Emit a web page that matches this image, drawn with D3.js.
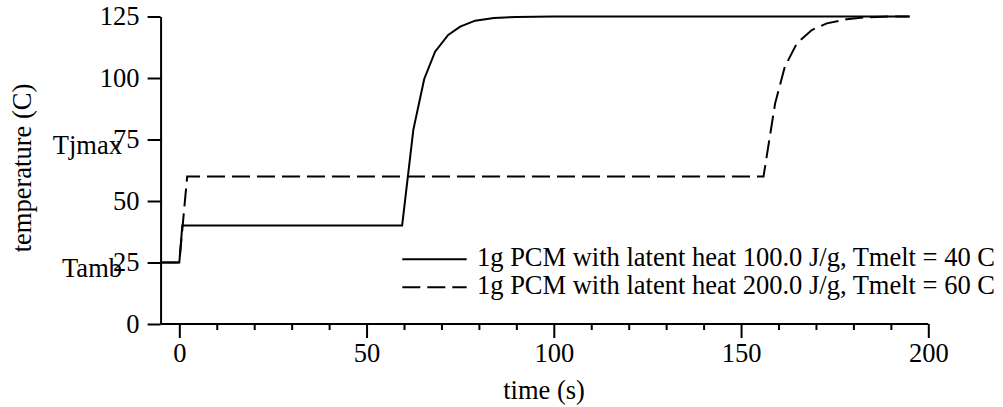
<!DOCTYPE html>
<html>
<head>
<meta charset="utf-8">
<script src="https://cdn.jsdelivr.net/npm/d3@7"></script>
<style>
    body { margin: 0; background: #fff; }
    svg text { font-family: "Liberation Serif", "Times New Roman", serif; font-size: 26.5px; fill: #000; }
    .axis path, .axis line { stroke: #000; stroke-width: 2px; }
    .curve { fill: none; stroke: #000; stroke-width: 2px; }
</style>
</head>
<body>
<svg id="chart" width="1003" height="407" font-family="Liberation Serif"></svg>
<script>
// Values
var timeSolid = [-5, 0, 0.8, 59.5, 62.5, 65.4, 68.3, 71.8, 75, 79, 84, 90, 100, 120, 150, 195];
var tempSolid = [25, 25, 40, 40, 79, 99.6, 110.7, 117.5, 120.9, 123.3, 124.4, 124.8, 125, 125, 125, 125];

var timeDashed = [-5, 0, 2.1, 156, 159.1, 161.7, 164.9, 168.9, 172.9, 178.2, 183.5, 190, 195];
var tempDashed = [25, 25, 60, 60, 89.7, 104.6, 114.1, 119.5, 122.2, 123.9, 124.7, 125, 125];

var legendLabels = [
    '1g PCM with latent heat 100.0 J/g, Tmelt = 40 C',
    '1g PCM with latent heat 200.0 J/g, Tmelt = 60 C'
];
var xMajorTicks = [0, 50, 100, 150, 200];
var xMinorTicks = [10, 20, 30, 40, 60, 70, 80, 90, 110, 120, 130, 140, 160, 170, 180, 190];
var yTicks = [0, 25, 50, 75, 100, 125];
// extra named levels on the temperature axis
var markLabels = ['Tjmax', 'Tamb'];
var markValues = [75, 25];

var svg = d3.select('#chart');
var serif = '"Liberation Serif", "Times New Roman", serif';

var x = d3.scaleLinear().domain([0, 200]).range([179.3, 928.3]);
var y = d3.scaleLinear().domain([0, 125]).range([324, 16.5]);
var x0 = x(-5);

// zip the arrays into point lists
function points(ts, vs) {
    return ts.map(function(t, i) { return [t, vs[i]]; });
}
var series = [
    {name: legendLabels[0], pts: points(timeSolid, tempSolid), dash: null},
    {name: legendLabels[1], pts: points(timeDashed, tempDashed), dash: '18,7'}
];

// x axis, major ticks with labels
var xAxis = d3.axisBottom(x)
    .tickValues(xMajorTicks)
    .tickSize(14)
    .tickSizeOuter(0)
    .tickPadding(5.5);
var gx = svg.append('g')
    .attr('class', 'axis')
    .attr('transform', 'translate(0,' + y(0) + ')')
    .call(xAxis)
    .attr('font-family', serif)
    .attr('font-size', 26.5);
gx.select('.domain').attr('d', 'M' + x0 + ',0H' + x(200));

// minor ticks, no labels
svg.append('g')
    .attr('class', 'axis')
    .attr('transform', 'translate(0,' + y(0) + ')')
    .call(d3.axisBottom(x).tickValues(xMinorTicks).tickSize(6).tickFormat(''))
    .select('.domain').remove();

// y axis
var yAxis = d3.axisLeft(y)
    .tickValues(yTicks)
    .tickSize(13)
    .tickSizeOuter(0)
    .tickPadding(8);
svg.append('g')
    .attr('class', 'axis')
    .attr('transform', 'translate(' + x0 + ',0)')
    .call(yAxis)
    .attr('font-family', serif)
    .attr('font-size', 26.5);

// named levels next to the tick labels
svg.selectAll('.mark')
    .data(markLabels)
    .enter().append('text')
    .attr('class', 'mark')
    .attr('x', 122)
    .attr('y', function(d, i) { return y(markValues[i]) + 14; })
    .attr('text-anchor', 'end')
    .text(function(d) { return d; });

// axis titles
svg.append('text')
    .attr('x', 544)
    .attr('y', 399)
    .attr('text-anchor', 'middle')
    .text('time (s)');
svg.append('text')
    .attr('transform', 'translate(31,168) rotate(-90)')
    .attr('text-anchor', 'middle')
    .text('temperature (C)');

// curves
var line = d3.line()
    .x(function(d) { return x(d[0]); })
    .y(function(d) { return y(d[1]); });

svg.selectAll('.curve')
    .data(series)
    .enter().append('path')
    .attr('class', 'curve')
    .attr('stroke-dasharray', function(d) { return d.dash; })
    .attr('d', function(d) { return line(d.pts); });

// legend
var legend = svg.selectAll('.legend')
    .data(series)
    .enter().append('g')
    .attr('class', 'legend')
    .attr('transform', function(d, i) { return 'translate(0,' + (259.3 + i * 28) + ')'; });
legend.append('line')
    .attr('x1', 402.3)
    .attr('x2', 466.7)
    .attr('stroke', '#000')
    .attr('stroke-width', 2)
    .attr('stroke-dasharray', function(d) { return d.dash; });
legend.append('text')
    .attr('x', 477)
    .attr('y', 6.6)
    .text(function(d) { return d.name; });
</script>
</body>
</html>
